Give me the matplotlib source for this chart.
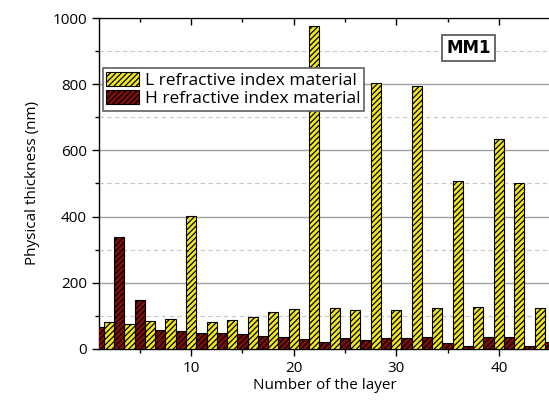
"""
Layer thickness of the MM1 multilayer design
"""
import numpy as np

import matplotlib

matplotlib.use("Agg")
import matplotlib.pyplot as plt  # noqa:E402
from matplotlib.ticker import MultipleLocator  # noqa:E402

# L material sits on even layers, H material on odd layers
l_layers = [2, 4, 6, 8, 10, 12, 14, 16, 18, 20, 22, 24, 26, 28, 30, 32, 34, 36, 38, 40, 42, 44]
l_thickness = [80, 76, 83, 89, 403, 80, 86, 96, 110, 121, 975, 125, 116, 803, 116, 794,
               123, 506, 127, 635, 500, 125]
h_layers = [1, 3, 5, 7, 9, 11, 13, 15, 17, 19, 21, 23, 25, 27, 29, 31, 33, 35, 37, 39, 41, 43, 45]
h_thickness = [66, 338, 147, 56, 53, 47, 47, 44, 40, 35, 30, 20, 34, 28, 34, 32, 37, 18,
               10, 37, 37, 10, 20]

l_label = "L refractive index material"
h_label = "H refractive index material"


def main():
    plt.rcParams["font.family"] = ["Open Sans", "DejaVu Sans"]
    plt.rcParams["hatch.linewidth"] = 0.9

    fig = plt.figure(figsize=(5.49, 4.01), dpi=100)
    ax = fig.add_axes([0.180, 0.130, 0.822, 0.825])

    ax.bar(l_layers, l_thickness, width=1.0, color="#f2e81a", edgecolor="black",
           hatch="//////", linewidth=0.8, label=l_label, zorder=3)
    ax.bar(h_layers, h_thickness, width=1.0, color="#800c0c", edgecolor="black",
           hatch="//////", linewidth=0.8, label=h_label, zorder=3)

    ax.set_xlim(1, 45)
    ax.set_ylim(0, 1000)
    ax.xaxis.set_major_locator(MultipleLocator(10))
    ax.xaxis.set_minor_locator(MultipleLocator(5))
    ax.yaxis.set_major_locator(MultipleLocator(200))
    ax.yaxis.set_minor_locator(MultipleLocator(100))

    ax.grid(which="major", axis="y", color="#a0a0a0", linewidth=1.0, zorder=0)
    ax.grid(which="minor", axis="y", color="#c8c8c8", linewidth=0.8,
            linestyle=(0, (4, 3)), zorder=0)

    ax.tick_params(which="major", direction="out", length=5, width=1, labelsize=11)
    ax.tick_params(which="minor", direction="out", length=3, width=1)

    # mirrored ticks on the top axis
    top = ax.secondary_xaxis("top")
    top.xaxis.set_major_locator(MultipleLocator(10))
    top.xaxis.set_minor_locator(MultipleLocator(5))
    top.tick_params(which="major", direction="in", length=5, width=1, labeltop=False)
    top.tick_params(which="minor", direction="in", length=3, width=1)

    for side in ["left", "bottom"]:
        ax.spines[side].set_linewidth(1.0)
    ax.spines["right"].set_visible(False)

    ax.set_xlabel("Number of the layer", fontsize=11, labelpad=2)
    ax.set_ylabel("Physical thickness (nm)", fontsize=11, labelpad=9)

    leg = ax.legend(loc="upper left", bbox_to_anchor=(0.009, 0.848), fontsize=12.5,
                    fancybox=False, framealpha=1, edgecolor="#606060",
                    handlelength=1.9, handleheight=0.9, handletextpad=0.3,
                    borderpad=0.2, labelspacing=0.05, borderaxespad=0)
    leg.get_frame().set_linewidth(1.2)
    leg.set_zorder(5)

    ax.text(0.8195, 0.91, "MM1", transform=ax.transAxes, ha="center", va="center",
            fontsize=12, fontweight="bold", family="DejaVu Sans", zorder=6,
            bbox=dict(boxstyle="square,pad=0.25", facecolor="white",
                      edgecolor="#505050", linewidth=1.2))

    fig.savefig("out.png", dpi=100)
    plt.close(fig)


if __name__ == "__main__":
    main()
